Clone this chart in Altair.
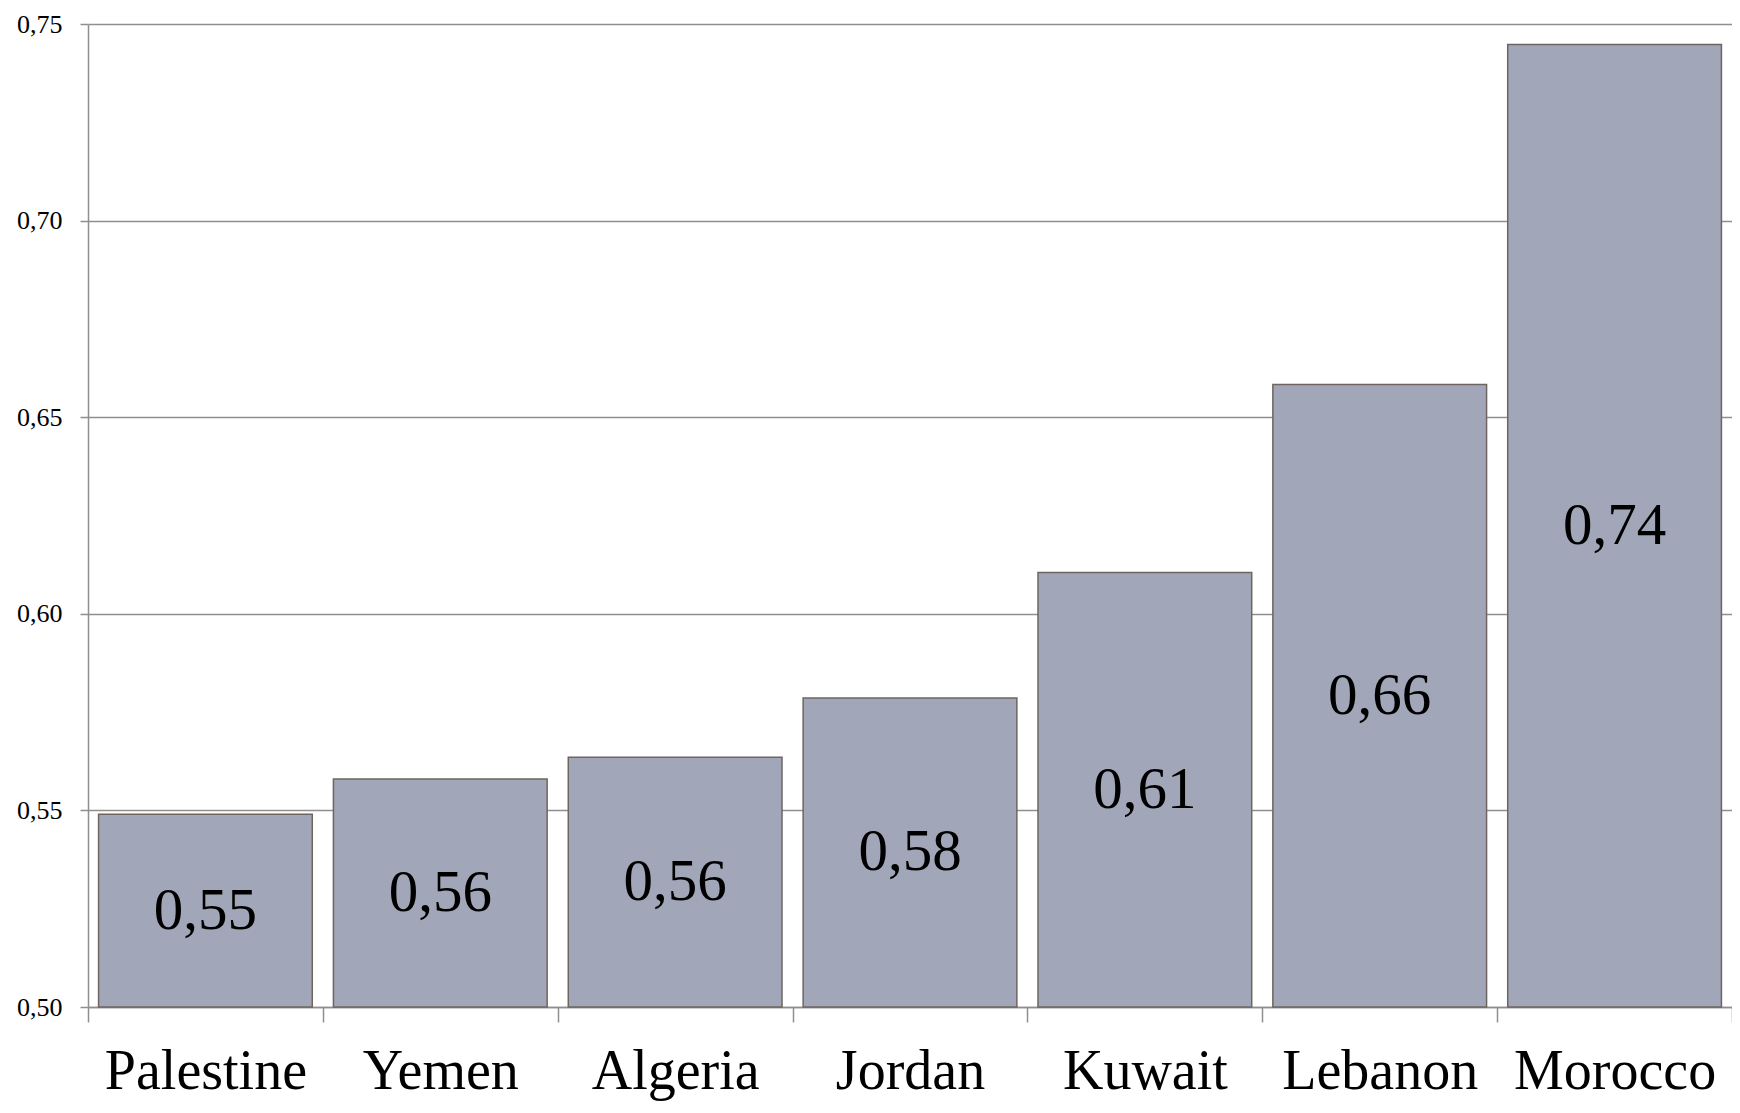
import altair as alt
import pandas as pd

countries = ["Palestine", "Yemen", "Algeria", "Jordan", "Kuwait", "Lebanon", "Morocco"]
values = [0.549, 0.558, 0.5635, 0.5786, 0.6105, 0.6583, 0.7448]
labels = ["0,55", "0,56", "0,56", "0,58", "0,61", "0,66", "0,74"]
y_ticks = [0.50, 0.55, 0.60, 0.65, 0.70, 0.75]

df = pd.DataFrame({"country": countries, "value": values, "label": labels})

GREY = "#8f8f8f"
FONT = "Liberation Serif"

x = alt.X(
    "country:N", sort=countries, title=None,
    scale=alt.Scale(paddingInner=0, paddingOuter=0),
    axis=alt.Axis(tickBand="extent", tickSize=15, labelPadding=22, labelAngle=0,
                  labelFontSize=56, labelFont=FONT, labelColor="black", labelLimit=0,
                  domainColor=GREY, tickColor=GREY, domainWidth=1.5, tickWidth=1.5,
                  grid=False),
)
y = alt.Y(
    "value:Q", title=None,
    scale=alt.Scale(domain=[0.5, 0.75], zero=False, nice=False),
    axis=alt.Axis(values=y_ticks,
                  labelExpr="replace(format(datum.value, '.2f'), '.', ',')",
                  tickSize=8, labelPadding=18, labelFontSize=26, labelFont=FONT,
                  labelColor="black", domainColor=GREY, tickColor=GREY,
                  domainWidth=1.5, tickWidth=1.5, gridColor=GREY, gridWidth=1.5,
                  gridOpacity=1),
)

bars = alt.Chart().mark_bar(
    width=alt.RelativeBandSize(0.91), fill="#A1A6B8", stroke="#6E6560", strokeWidth=1.5
).encode(x=x, y=y, y2=alt.datum(0.5))

text = alt.Chart().transform_calculate(
    mid="(datum.value + 0.5) / 2"
).mark_text(fontSize=59, font=FONT, color="black", baseline="middle").encode(
    x=alt.X("country:N", sort=countries),
    y=alt.Y("mid:Q"),
    text="label:N",
)

chart = alt.layer(bars, text, data=df).properties(
    width=1644, height=983,
    autosize=alt.AutoSizeParams(type="none"),
    padding={"left": 80, "top": 16, "right": 0, "bottom": 98},
).configure_view(stroke=None)

chart.save("out.html", embed_options={"renderer": "svg", "actions": False})
